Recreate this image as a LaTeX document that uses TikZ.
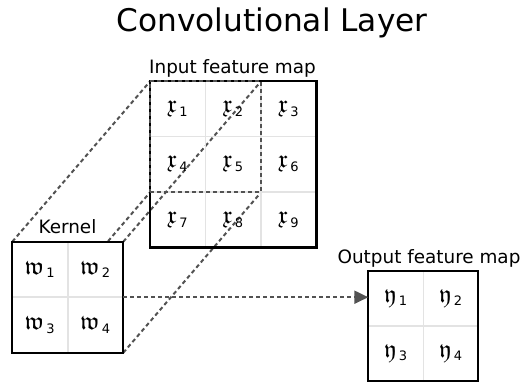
\documentclass[tikz,border=0pt]{standalone}
\usepackage{amsmath,amssymb}
\usepackage{fontspec}
\setmainfont{DejaVu Sans}
\usetikzlibrary{arrows.meta,positioning,backgrounds}

\newcommand{\entry}[2]{$\mathfrak{#1}_{\mkern2mu\mbox{\fontsize{13}{13}\selectfont #2}}$}

\begin{document}
\begin{tikzpicture}[
    x=1pt, y=-1pt,
    >=Stealth,
    cell/.style={draw=gray!22, line width=1.6pt, minimum size=#1, inner sep=0pt,
      font=\fontsize{24.88}{26}\selectfont},
    cell/.default=55.5pt,
    mapframe/.style={draw=black, line width=2.2pt, minimum size=#1, inner sep=0pt, outer sep=0pt},
    window/.style={draw=black!68, line width=2pt, dash pattern=on 4pt off 3pt,
      minimum size=111pt, inner sep=0pt, outer sep=0pt},
    lbl/.style={font=\fontsize{18.4}{20}\selectfont, anchor=base},
    link/.style={draw=black!68, line width=2pt, dash pattern=on 4pt off 3pt},
  ]
  \useasboundingbox (0,0) rectangle (526,385);

  % Title
  \node[lbl, font=\fontsize{31.2}{34}\selectfont] (title) at (272,32) {Convolutional Layer};

  % Input feature map
  \foreach \r in {0,1,2}
    \foreach \c in {1,2,3} {
      \pgfmathtruncatemacro\k{3*\r+\c}
      \node[cell] (in\k) at (122.25+55.5*\c, 108.75+55.5*\r) {\entry{x}{\k}};
    }
  \node[mapframe=166.5pt] (input) at (233.25,164.25) {};
  \node[lbl] (inlabel) at (232.5,74) {Input feature map};
  \node[window] (win) at (205.9,136.4) {};

  % Kernel
  \foreach \r in {0,1}
    \foreach \c in {1,2} {
      \pgfmathtruncatemacro\k{2*\r+\c}
      \node[cell, fill=white] (ker\k) at (-15.45+55.5*\c, 269.45+55.5*\r) {\entry{w}{\k}};
    }
  \node[mapframe=111pt] (kernel) at (67.8,297.2) {};
  \node[lbl] (kerlabel) at (67.5,233) {Kernel};

  % Output feature map
  \foreach \r in {0,1}
    \foreach \c in {1,2} {
      \pgfmathtruncatemacro\k{2*\r+\c}
      \node[cell=55pt] (out\k) at (340.8+55*\c, 298.5+55*\r) {\entry{y}{\k}};
    }
  \node[mapframe=110pt] (output) at (423.3,326) {};
  \node[lbl] (outlabel) at (429,263) {Output feature map};

  % Projection of the kernel onto the input
  \begin{scope}[on background layer]
    \draw[link] (kernel.north west) -- (win.north west);
    \draw[link] (kernel.north east) -- (win.north east);
    \draw[link] (kernel.south west) -- (win.south west);
    \draw[link] (kernel.south east) -- (win.south east);
  \end{scope}

  % Kernel to output
  \draw[link, -{Triangle[length=14pt,width=13pt]}] (kernel.east) -- (kernel.east -| output.west);
\end{tikzpicture}
\end{document}
